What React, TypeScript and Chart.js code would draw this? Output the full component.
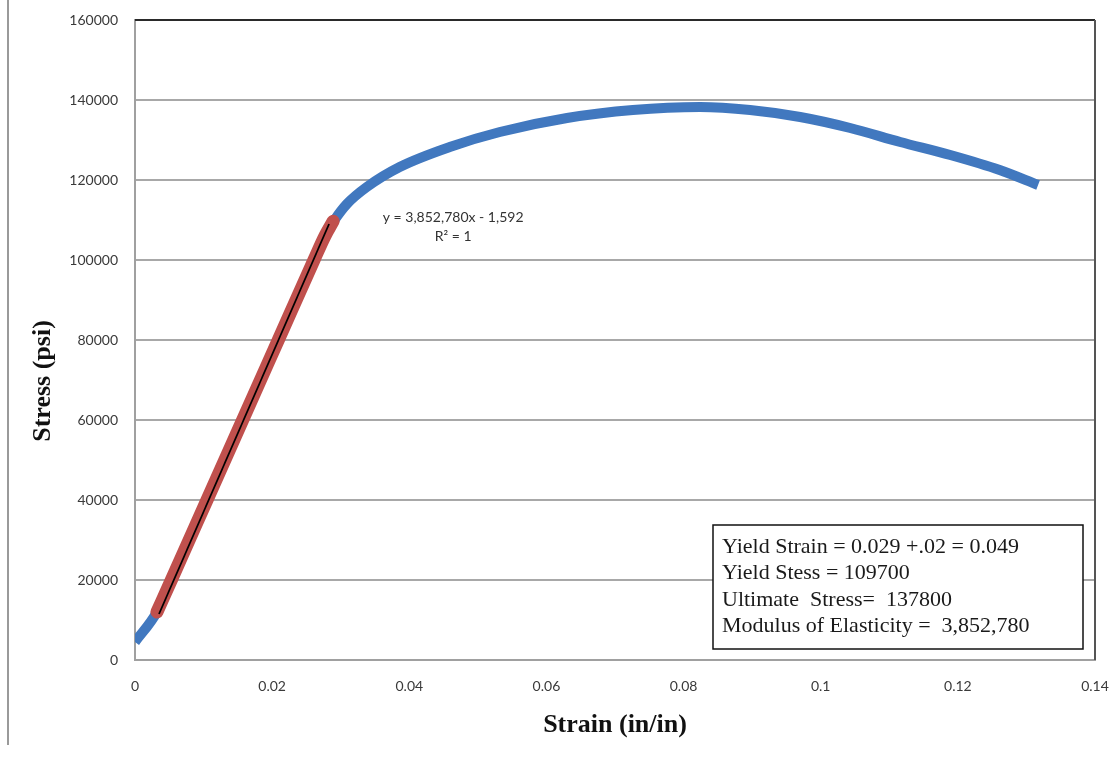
import React, { useEffect, useRef } from 'react';
import { Chart, registerables } from 'chart.js';

Chart.register(...registerables);

// Full stress-strain curve (blue)
const curveStrain = [0, 0.0032, 0.0053, 0.0105, 0.0157, 0.0209, 0.0261, 0.0277, 0.0291, 0.0309, 0.0338, 0.0386, 0.0459, 0.0532, 0.063, 0.0726, 0.0824, 0.0897, 0.097, 0.1043, 0.1116, 0.1189, 0.1261, 0.1317];
const curveStress = [4500, 12000, 20000, 40000, 60000, 80000, 100000, 106000, 110000, 114000, 118250, 123250, 128250, 132000, 135500, 137500, 138250, 137500, 135750, 133000, 129500, 126250, 122500, 118750];

// Elastic region (red)
const elasticStrain = [0.0032, 0.0053, 0.0105, 0.0157, 0.0209, 0.0261, 0.0277, 0.0289];
const elasticStress = [12000, 20000, 40000, 60000, 80000, 100000, 106000, 109700];

// Linear trendline (black)
const trendStrain = [0.0035, 0.0283];
const trendStress = [11500, 109000];

const xTickLabels = ['0', '0.02', '0.04', '0.06', '0.08', '0.1', '0.12', '0.14'];
const yTickLabels = ['0', '20000', '40000', '60000', '80000', '100000', '120000', '140000', '160000'];

const trendEquation = ['y = 3,852,780x - 1,592', 'R\u00B2 = 1'];
const summaryLines = [
  'Yield Strain = 0.029 +.02 = 0.049',
  'Yield Stess = 109700',
  'Ultimate  Stress=  137800',
  'Modulus of Elasticity =  3,852,780',
];

const xTitle = 'Strain (in/in)';
const yTitle = 'Stress (psi)';

const toPoints = (xs: number[], ys: number[]) => xs.map((x, i) => ({ x, y: ys[i] }));

const overlayPlugin = {
  id: 'overlay',
  beforeDraw(chart: any) {
    const ctx = chart.ctx;
    ctx.save();
    ctx.fillStyle = '#ffffff';
    ctx.fillRect(0, 0, chart.width, chart.height);
    ctx.restore();
  },
  afterDraw(chart: any) {
    const ctx = chart.ctx;
    const a = chart.chartArea;
    const xs = chart.scales.x;
    ctx.save();

    // page edge line on the left
    ctx.strokeStyle = '#9a9a9a';
    ctx.lineWidth = 2;
    ctx.beginPath();
    ctx.moveTo(8, 0);
    ctx.lineTo(8, 745);
    ctx.stroke();

    // dark top and right borders of the plot area
    ctx.strokeStyle = '#2a2a2a';
    ctx.lineWidth = 2;
    ctx.beginPath();
    ctx.moveTo(a.left, a.top);
    ctx.lineTo(a.right, a.top);
    ctx.stroke();
    ctx.strokeStyle = '#555555';
    ctx.beginPath();
    ctx.moveTo(a.right, a.top);
    ctx.lineTo(a.right, a.bottom);
    ctx.stroke();

    // axis titles
    ctx.fillStyle = '#111111';
    ctx.font = 'bold 26px "Liberation Serif", "Times New Roman", serif';
    ctx.textAlign = 'center';
    ctx.textBaseline = 'middle';
    ctx.fillText(xTitle, (a.left + a.right) / 2, 725);
    ctx.save();
    ctx.translate(43, 381);
    ctx.rotate(-Math.PI / 2);
    ctx.fillText(yTitle, 0, 0);
    ctx.restore();

    // trendline equation
    ctx.fillStyle = '#333333';
    ctx.font = '14px Lato, "Open Sans", sans-serif';
    const ex = xs.getPixelForValue(0.0464);
    ctx.fillText(trendEquation[0], ex, 217);
    ctx.fillText(trendEquation[1], ex, 236);

    // summary box
    const bx = a.right - 382;
    const by = a.bottom - 135;
    const bw = 370;
    const bh = 124;
    ctx.fillStyle = '#ffffff';
    ctx.fillRect(bx, by, bw, bh);
    ctx.strokeStyle = '#111111';
    ctx.lineWidth = 1.5;
    ctx.strokeRect(bx, by, bw, bh);
    ctx.fillStyle = '#1a1a1a';
    ctx.font = '22px "Liberation Serif", "Times New Roman", serif';
    ctx.textAlign = 'left';
    summaryLines.forEach((line, i) => {
      ctx.fillText(line, bx + 9, by + 22 + i * 26.5);
    });

    ctx.restore();
  },
};

export default function App() {
  const canvasRef = useRef<HTMLCanvasElement | null>(null);

  useEffect(() => {
    if (!canvasRef.current) return;
    const chart = new Chart(canvasRef.current, {
      type: 'scatter',
      data: {
        datasets: [
          {
            label: 'Linear fit',
            data: toPoints(trendStrain, trendStress),
            showLine: true,
            borderColor: '#000000',
            borderWidth: 1.8,
            pointRadius: 0,
          },
          {
            label: 'Elastic',
            data: toPoints(elasticStrain, elasticStress),
            showLine: true,
            borderColor: '#C0504D',
            borderWidth: 13,
            borderCapStyle: 'round',
            borderJoinStyle: 'round',
            cubicInterpolationMode: 'monotone',
            pointRadius: 0,
          },
          {
            label: 'Stress-strain',
            data: toPoints(curveStrain, curveStress),
            showLine: true,
            borderColor: '#4178BF',
            borderWidth: 10,
            borderCapStyle: 'butt',
            borderJoinStyle: 'round',
            cubicInterpolationMode: 'monotone',
            pointRadius: 0,
          },
        ],
      } as any,
      options: {
        responsive: false,
        animation: false,
        layout: { padding: { top: 20, right: 18, left: 0, bottom: 0 } },
        plugins: {
          legend: { display: false },
          tooltip: { enabled: false },
          title: { display: false },
        },
        scales: {
          x: {
            type: 'linear',
            min: 0,
            max: 0.14,
            afterBuildTicks: (scale: any) => {
              scale.ticks = xTickLabels.map((_, i) => ({ value: i * 0.02 }));
            },
            afterFit: (scale: any) => {
              scale.height = 99;
              scale.paddingLeft = 0;
              scale.paddingRight = 0;
            },
            grid: { display: false, drawTicks: false },
            border: { display: true, color: '#a0a0a0', width: 2 },
            ticks: {
              padding: 18,
              color: '#3a3a3a',
              font: { family: 'Lato', size: 14 },
              maxRotation: 0,
              autoSkip: false,
              callback: (_v: any, i: number) => xTickLabels[i],
            },
          },
          y: {
            type: 'linear',
            min: 0,
            max: 160000,
            afterBuildTicks: (scale: any) => {
              scale.ticks = yTickLabels.map((_, i) => ({ value: i * 20000 }));
            },
            afterFit: (scale: any) => {
              scale.width = 135;
              scale.paddingTop = 0;
              scale.paddingBottom = 0;
            },
            grid: { color: '#a8a8a8', lineWidth: 2, drawTicks: false },
            border: { display: true, color: '#a0a0a0', width: 2 },
            ticks: {
              padding: 17,
              color: '#3a3a3a',
              font: { family: 'Lato', size: 14 },
              autoSkip: false,
              callback: (_v: any, i: number) => yTickLabels[i],
            },
          },
        },
      } as any,
      plugins: [overlayPlugin],
    });
    return () => chart.destroy();
  }, []);

  return (
    <div style={{ position: 'absolute', left: 0, top: 0, width: 1113, height: 759 }}>
      <canvas ref={canvasRef} width={1113} height={759} style={{ width: 1113, height: 759 }} />
    </div>
  );
}
